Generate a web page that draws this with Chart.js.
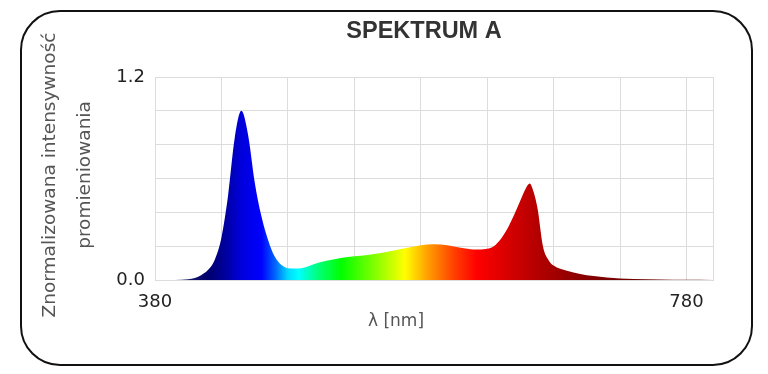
<!DOCTYPE html>
<html>
<head>
<meta charset="utf-8">
<script src="https://cdn.jsdelivr.net/npm/chart.js@4"></script>
<style>
  body { margin: 0; background: #fff; }
  #wrap { position: relative; width: 768px; height: 374px; }
  #frame {
    position: absolute; left: 20px; top: 10px; width: 729px; height: 352px;
    border: 2px solid #111; border-radius: 40px;
  }
  canvas { position: absolute; left: 0; top: 0; }
</style>
</head>
<body>
<div id="wrap">
  <div id="frame"></div>
  <canvas id="spectrum" width="768" height="374"></canvas>
</div>
<script>
// wavelengths [nm] and normalized intensity
const wavelengths = [380, 390, 400, 405, 410, 415, 420, 425, 430, 435, 440, 445, 450, 455, 460, 465, 470, 475,
    480, 485, 490, 495, 500, 510, 520, 530, 540, 550, 560, 570, 580, 590, 600, 610, 620, 630, 635, 640,
    645, 650, 655, 659, 662, 665, 668, 672, 676, 680, 690, 700, 710, 720, 740, 760, 780, 800];
const intensity = [0, 0, 0.002, 0.005, 0.012, 0.03, 0.06, 0.12, 0.25, 0.5, 0.84, 1.0, 0.86, 0.58, 0.38, 0.24, 0.14, 0.09,
    0.07, 0.068, 0.07, 0.08, 0.095, 0.115, 0.13, 0.14, 0.148, 0.16, 0.175, 0.19, 0.205, 0.212, 0.205, 0.19, 0.18, 0.185, 0.2, 0.24,
    0.3, 0.38, 0.47, 0.54, 0.57, 0.52, 0.42, 0.2, 0.12, 0.085, 0.055, 0.036, 0.023, 0.015, 0.006, 0.003, 0.001, 0];

const xTicks = [380, 430, 480, 530, 580, 630, 680, 730, 780, 800];
const xLabels = [380, 780];
const yTicks = [0, 0.2, 0.4, 0.6, 0.8, 1.0, 1.2];
const yLabels = [0, 1.2];

// colour of the light along the x axis
const stopNm = [400, 420, 432, 445, 460, 470, 480, 488, 502, 520, 545, 568, 585, 605, 622, 645, 665, 690, 720, 800];
const stopColors = ['#20206a', '#00006e', '#00009a', '#0000dc', '#0000ff', '#0060ff', '#00d8ff', '#00ffff', '#00ff80', '#00ff00',
    '#80ff00', '#ffff00', '#ffa000', '#ff4000', '#ff0000', '#d80000', '#b80000', '#960000', '#780000', '#600000'];

function spectrumFill(context) {
    const chart = context.chart;
    const area = chart.chartArea;
    if (!area) return null;
    const xs = chart.scales.x;
    const g = chart.ctx.createLinearGradient(area.left, 0, area.right, 0);
    stopNm.forEach((nm, i) => {
        const p = (xs.getPixelForValue(nm) - area.left) / (area.right - area.left);
        g.addColorStop(Math.min(1, Math.max(0, p)), stopColors[i]);
    });
    return g;
}

const texts = {
    id: 'texts',
    afterDraw(chart) {
        const ctx = chart.ctx;
        ctx.save();
        ctx.textAlign = 'center';
        ctx.textBaseline = 'middle';
        ctx.fillStyle = '#333';
        ctx.font = 'bold 23.5px "Liberation Sans"';
        ctx.fillText('SPEKTRUM A', 424, 32);

        ctx.fillStyle = '#555';
        ctx.font = '17px "DejaVu Sans"';
        ctx.fillText('λ [nm]', 396, 322);

        ctx.font = '18.5px "DejaVu Sans"';
        ctx.translate(50, 175);
        ctx.rotate(-Math.PI / 2);
        ctx.fillText('Znormalizowana intensywność', 0, 0);
        ctx.fillText('promieniowania', 0, 35);
        ctx.restore();
    }
};

const gridColor = '#dcdcdc';

new Chart(document.getElementById('spectrum'), {
    type: 'line',
    data: {
        datasets: [{
            data: wavelengths.map((w, i) => ({ x: w, y: intensity[i] })),
            fill: 'origin',
            backgroundColor: spectrumFill,
            borderWidth: 0,
            pointRadius: 0,
            cubicInterpolationMode: 'monotone'
        }]
    },
    options: {
        responsive: false,
        animation: false,
        layout: { padding: { left: 0, right: 55, top: 77, bottom: 0 } },
        plugins: { legend: { display: false }, tooltip: { enabled: false } },
        scales: {
            x: {
                type: 'linear',
                min: 380,
                max: 800,
                afterBuildTicks: s => { s.ticks = xTicks.map(v => ({ value: v })); },
                afterFit: s => { s.height = 94; },
                grid: { color: gridColor, drawTicks: false },
                border: { color: gridColor },
                ticks: {
                    padding: 12,
                    color: '#222',
                    font: { family: 'DejaVu Sans', size: 18 },
                    maxRotation: 0,
                    autoSkip: false,
                    callback: v => xLabels.includes(v) ? String(v) : ''
                }
            },
            y: {
                min: 0,
                max: 1.2,
                afterBuildTicks: s => { s.ticks = yTicks.map(v => ({ value: v })); },
                afterFit: s => { s.width = 155; },
                grid: { color: gridColor, drawTicks: false },
                border: { color: gridColor },
                ticks: {
                    padding: 10,
                    color: '#222',
                    font: { family: 'DejaVu Sans', size: 18 },
                    callback: v => yLabels.includes(v) ? v.toFixed(1) : ''
                }
            }
        }
    },
    plugins: [texts]
});
</script>
</body>
</html>
